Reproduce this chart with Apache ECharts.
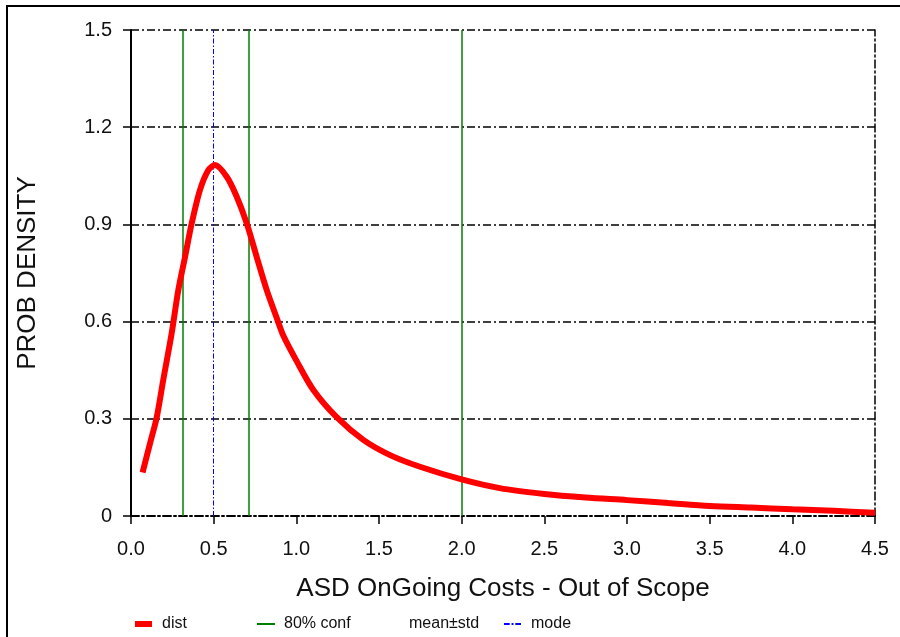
<!DOCTYPE html>
<html>
<head>
<meta charset="utf-8">
<script src="https://cdn.jsdelivr.net/npm/echarts@6/dist/echarts.min.js"></script>
<style>html,body{margin:0;padding:0;background:#fff;}#c{width:900px;height:637px;}</style>
</head>
<body>
<div id="c"></div>
<script>
// ---- data ----
const distX = [0.07, 0.115, 0.155, 0.195, 0.246, 0.286, 0.327, 0.367, 0.417, 0.468, 0.508, 0.579, 0.639, 0.700, 0.760, 0.821, 0.881, 0.921, 1.002, 1.103, 1.244, 1.405, 1.567, 1.748, 2.0, 2.23, 2.5, 2.75, 3.0, 3.25, 3.5, 3.75, 4.0, 4.25, 4.5];
const distY = [0.134, 0.224, 0.303, 0.42, 0.564, 0.697, 0.80, 0.903, 1.006, 1.068, 1.083, 1.047, 0.986, 0.903, 0.80, 0.697, 0.612, 0.557, 0.478, 0.389, 0.305, 0.235, 0.188, 0.152, 0.113, 0.086, 0.068, 0.057, 0.049, 0.04, 0.031, 0.026, 0.021, 0.016, 0.01];
const confBounds = [0.308, 0.708, 2.0];
const modeValue = [0.502];
const xTicks = [0, 0.5, 1.0, 1.5, 2.0, 2.5, 3.0, 3.5, 4.0, 4.5];
const yTicks = [0, 0.3, 0.6, 0.9, 1.2, 1.5];
const legendNames = ['dist', '80% conf', 'mean±std', 'mode'];

const dashDot = [8, 3, 2, 3];
const font = 'Liberation Sans, Arial, sans-serif';
const legendText = (pad) => ({fontSize: 16, color: '#111', fontFamily: font, padding: [0, 0, 0, pad]});

const chart = echarts.init(document.getElementById('c'), null, {renderer: 'canvas'});
const option = {
  backgroundColor: '#fff',
  animation: false,
  textStyle: {fontFamily: font},
  grid: {left: 131, top: 30, right: 25, bottom: 121, containLabel: false},
  xAxis: {
    type: 'value', min: xTicks[0], max: xTicks[xTicks.length - 1], interval: 0.5,
    name: 'ASD OnGoing Costs - Out of Scope', nameLocation: 'middle', nameGap: 60,
    nameTextStyle: {fontSize: 26, color: '#111', fontFamily: font},
    axisLine: {show: true, onZero: false, lineStyle: {color: '#000', width: 2, type: dashDot}},
    axisTick: {show: true, length: 8, lineStyle: {color: '#000', width: 1.5}},
    axisLabel: {fontSize: 20, color: '#111', margin: 23, fontFamily: font, formatter: v => v.toFixed(1)},
    splitLine: {show: false}
  },
  yAxis: [{
    type: 'value', min: yTicks[0], max: yTicks[yTicks.length - 1], interval: 0.3,
    name: 'PROB DENSITY', nameLocation: 'middle', nameGap: 90,
    nameTextStyle: {fontSize: 26, color: '#111', fontFamily: font},
    axisLine: {show: true, lineStyle: {color: '#000', width: 2}},
    axisTick: {show: true, length: 8, lineStyle: {color: '#000', width: 1.5}},
    axisLabel: {fontSize: 20, color: '#111', margin: 19, fontFamily: font, formatter: v => v === 0 ? '0' : v.toFixed(1)},
    splitLine: {show: true, lineStyle: {color: '#000', width: 1.5, type: dashDot}}
  }, {
    type: 'value', position: 'right', min: yTicks[0], max: yTicks[yTicks.length - 1], interval: 0.3,
    axisLine: {show: true, lineStyle: {color: '#000', width: 1.5, type: dashDot}},
    axisTick: {show: false}, axisLabel: {show: false}, splitLine: {show: false}
  }],
  legend: [
    {data: [{name: legendNames[0], icon: 'rect'}], left: 135, top: 616, padding: 0, itemWidth: 17, itemHeight: 6, itemGap: 0,
     textStyle: legendText(5)},
    {data: [{name: legendNames[1], icon: 'rect'}], left: 257, top: 616, padding: 0, itemWidth: 18, itemHeight: 2, itemGap: 0,
     textStyle: legendText(4)},
    {data: [{name: legendNames[2], icon: 'rect'}], left: 382, top: 616, padding: 0, itemWidth: 18, itemHeight: 2, itemGap: 0,
     textStyle: legendText(4)},
    {data: [{name: legendNames[3], icon: 'path://M0,0h6v2h-6z M8,0h2v2h-2z M12,0h6v2h-6z'}], left: 504, top: 616, padding: 0, itemWidth: 17, itemHeight: 2, itemGap: 0,
     textStyle: legendText(5)}
  ],
  graphic: [{
    type: 'rect', silent: true, z: 100,
    shape: {x: 7, y: 6, width: 1000, height: 1000},
    style: {fill: 'none', stroke: '#000', lineWidth: 2}
  }],
  series: [
    {
      name: legendNames[1], type: 'line', data: [], symbol: 'none',
      color: '#008000', lineStyle: {color: '#008000', width: 1.5},
      markLine: {silent: true, symbol: 'none', label: {show: false},
        lineStyle: {color: '#008000', width: 1.5, type: 'solid'},
        data: confBounds.map(v => ({xAxis: v}))}
    },
    {
      name: legendNames[2], type: 'line', data: [], symbol: 'none',
      color: 'rgba(0,0,0,0)', lineStyle: {color: 'rgba(0,0,0,0)', width: 1}
    },
    {
      name: legendNames[3], type: 'line', data: [], symbol: 'none',
      color: '#0000ff', lineStyle: {color: '#0000ff', width: 1.2, type: [5, 2, 1.5, 2]},
      markLine: {silent: true, symbol: 'none', label: {show: false},
        lineStyle: {color: '#0000ff', width: 1, type: [5, 2, 1.5, 2]},
        data: modeValue.map(v => ({xAxis: v}))}
    },
    {
      name: legendNames[0], type: 'line', symbol: 'none', smooth: 0.3, z: 5,
      color: '#ff0000', lineStyle: {color: '#ff0000', width: 6},
      data: distX.map((x, i) => [x, distY[i]])
    }
  ]
};
chart.setOption(option);
</script>
</body>
</html>
